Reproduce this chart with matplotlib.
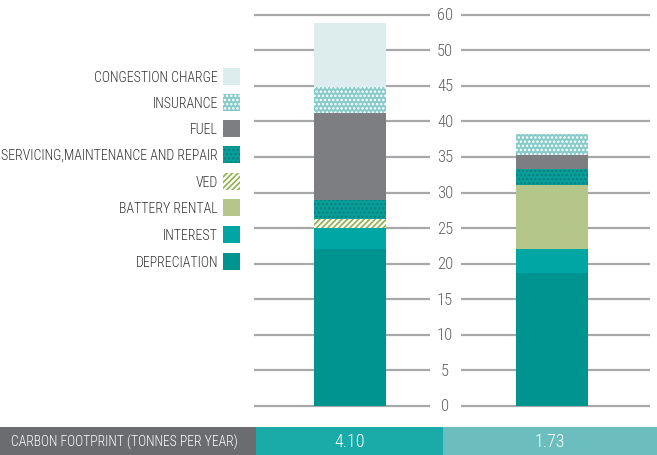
import matplotlib
matplotlib.use("Agg")
import matplotlib.pyplot as plt
from matplotlib import font_manager as fm
from matplotlib.patches import Rectangle
import numpy as np

available = {f.name for f in fm.fontManager.ttflist}
condensed = [n for n in ["Roboto Condensed", "Liberation Sans Narrow",
                         "DejaVu Sans Condensed", "Open Sans Condensed"]
             if n in available]
main_font = condensed[0] if condensed else "Liberation Sans"
plt.rcParams['font.family'] = [main_font, 'DejaVu Sans']
plt.rcParams['font.weight'] = 'light'
plt.rcParams['hatch.linewidth'] = 1.2

# ---- data ----
vehicles = ["Vehicle A", "Vehicle B"]
categories = ["DEPRECIATION", "INTEREST", "BATTERY RENTAL", "VED",
              "SERVICING,MAINTENANCE AND REPAIR", "FUEL", "INSURANCE",
              "CONGESTION CHARGE"]
depreciation = [22.0, 18.7]
interest = [2.95, 3.35]
battery_rental = [0.0, 9.05]
ved = [1.3, 0.0]
servicing = [2.65, 2.2]
fuel = [12.3, 1.95]
insurance = [3.65, 2.95]
congestion = [9.05, 0.0]
series = [depreciation, interest, battery_rental, ved, servicing, fuel,
          insurance, congestion]
tick_values = [0, 5, 10, 15, 20, 25, 30, 35, 40, 45, 50, 55]
tick_labels = ["0", "5", "10", "15", "20", "25", "30", "35", "40", "45", "50", "60"]
carbon_label = "CARBON FOOTPRINT (TONNES PER YEAR)"
carbon_values = ["4.10", "1.73"]

# ---- styles ----
styles = [
    dict(facecolor="#009490", edgecolor="#009490", hatch=None),
    dict(facecolor="#00A6A3", edgecolor="#00A6A3", hatch=None),
    dict(facecolor="#B5C68A", edgecolor="#B5C68A", hatch=None),
    dict(facecolor="white", edgecolor="#8DB04A", hatch="//////"),
    dict(facecolor="#0A9E9A", edgecolor="#06827F", hatch="...."),
    dict(facecolor="#7D7E82", edgecolor="#7D7E82", hatch=None),
    dict(facecolor="#86CACA", edgecolor="#FFFFFF", hatch="...."),
    dict(facecolor="#DDEDEE", edgecolor="#DDEDEE", hatch=None),
]

W, H = 657, 456
fig = plt.figure(figsize=(W / 100, H / 100), dpi=100)
renderer = fig.canvas.get_renderer()


def fit_size(text, target_px, base=12.0):
    t = fig.text(0, 0, text, fontsize=base)
    w = t.get_window_extent(renderer).width
    t.remove()
    return base * target_px / w


# axes in pixel positions
ax_left_px, ax_right_px = 254, 650
y0_px = 407
px_per_unit = 7.115
ymax = 57
ax_h_px = ymax * px_per_unit
ax = fig.add_axes([ax_left_px / W, (H - y0_px) / H,
                   (ax_right_px - ax_left_px) / W, ax_h_px / H])
ax.set_ylim(0, ymax)
unit_px = 202.0
ax.set_xlim(-96 / unit_px, (ax_right_px - ax_left_px - 96) / unit_px)
ax.axis("off")

x = np.arange(len(vehicles))
bw = 72 / unit_px
bottom = np.zeros(len(vehicles))
for vals, st in zip(series, styles):
    vals = np.array(vals)
    ax.bar(x, vals, bw, bottom=bottom, facecolor=st["facecolor"],
           edgecolor=st["edgecolor"], hatch=st["hatch"], linewidth=0, zorder=3)
    bottom += vals

# gridlines in two segments with labels in between
trans = ax.get_yaxis_transform()
gap_l = (430 - ax_left_px) / (ax_right_px - ax_left_px)
gap_r = (461 - ax_left_px) / (ax_right_px - ax_left_px)
lab_x = (445 - ax_left_px) / (ax_right_px - ax_left_px)
tick_fs = 12
for tv, tl in zip(tick_values, tick_labels):
    ax.plot([0, gap_l], [tv, tv], transform=trans, color="#A7A8AA", lw=1.6,
            zorder=1, clip_on=False, solid_capstyle="butt")
    ax.plot([gap_r, 1], [tv, tv], transform=trans, color="#A7A8AA", lw=1.6,
            zorder=1, clip_on=False, solid_capstyle="butt")
    ax.text(lab_x, tv, tl, transform=trans, ha="center", va="center",
            fontsize=tick_fs, color="#5F6063")

# legend (top item = last series)
leg_fs = min(12.5, fit_size("SERVICING,MAINTENANCE AND REPAIR", 216))
leg_y = [263, 236, 209, 183, 156, 130, 104, 78]
for cat, st, yc in zip(categories, styles, leg_y):
    r = Rectangle((223 / W, (H - yc - 8) / H), 17 / W, 17 / H,
                  transform=fig.transFigure, facecolor=st["facecolor"],
                  edgecolor=st["edgecolor"], hatch=st["hatch"], linewidth=0)
    fig.patches.append(r)
    fig.text(218 / W, (H - yc) / H, cat, ha="right", va="center",
             fontsize=leg_fs, color="#333335")

# carbon footprint strip
strip_top, strip_bot = 428, 456
strip_fs = min(12.5, fit_size(carbon_label, 228))
boxes = [(0, 256, "#6B6C70"), (256, 443, "#1AABA8"), (443, 657, "#6CBDBE")]
texts = [carbon_label] + carbon_values
for (xa, xb, c), t in zip(boxes, texts):
    fig.patches.append(Rectangle((xa / W, (H - strip_bot) / H), (xb - xa) / W,
                                 (strip_bot - strip_top) / H,
                                 transform=fig.transFigure, facecolor=c,
                                 edgecolor="none"))
    is_lab = t == carbon_label
    cx = 124 if is_lab else (xa + xb) / 2
    fig.text(cx / W, (H - (strip_top + strip_bot) / 2) / H, t,
             ha="center", va="center", fontsize=strip_fs if is_lab else 13,
             color="white")

fig.savefig("out.png", dpi=100)
